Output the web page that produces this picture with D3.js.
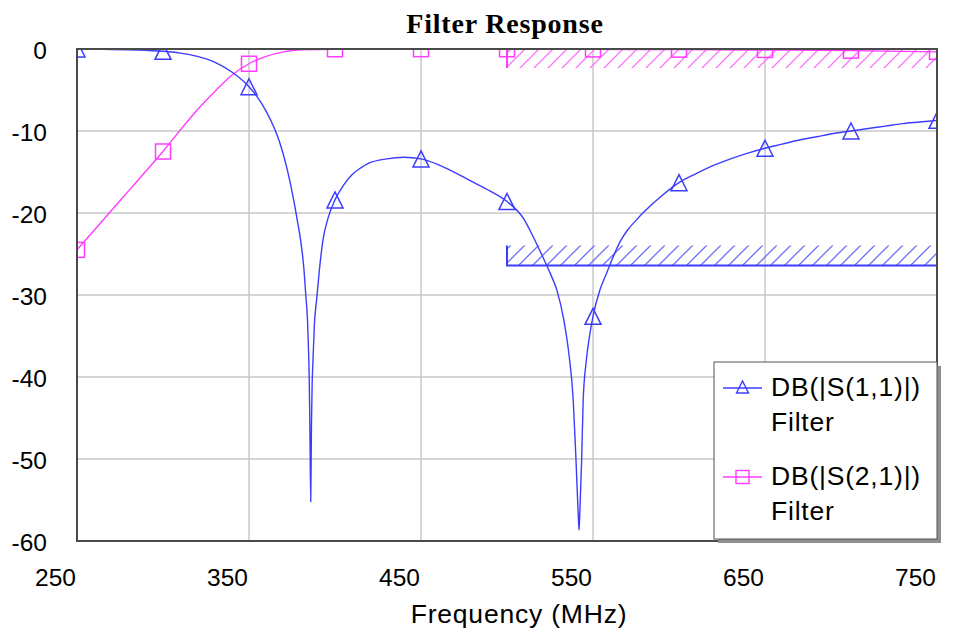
<!DOCTYPE html>
<html>
<head>
<meta charset="utf-8">
<script src="https://cdn.jsdelivr.net/npm/d3@7"></script>
<style>
body { margin: 0; background: #fff; }
svg { display: block; }
</style>
</head>
<body>
<div id="chart"></div>
<script>
var xTicks = [250, 350, 450, 550, 650, 750];
var yTicks = [0, -10, -20, -30, -40, -50, -60];
var markerFreq = [250, 300, 350, 400, 450, 500, 550, 600, 650, 700, 750];

// DB(|S(1,1)|)
var s11Freq = [250, 260, 270, 280, 290, 300, 310, 320, 330, 340, 345, 350, 355, 360, 365, 368, 372, 375.6, 378, 380,
    382, 383, 384, 384.5, 385, 385.4, 385.9, 386.3, 386.7, 387.2, 388, 389.4, 391, 393, 396, 400, 405, 410, 415, 420,
    430, 440, 450, 460, 470, 480, 490, 500, 510, 515, 520, 525, 529, 533, 536, 538.5, 540.1, 541.3, 541.9, 542.4,
    543.4, 544.3, 546, 548, 550, 554, 558, 562, 566, 570, 575, 580, 590, 600, 610, 620, 630, 640, 650, 660,
    670, 680, 690, 700, 710, 720, 730, 740, 750];
var s11Db = [0, -0.03, -0.06, -0.1, -0.17, -0.28, -0.5, -0.9, -1.6, -2.8, -3.6, -4.6, -5.9, -7.6, -9.8, -11.5, -14.5, -18.0, -20.8, -23.3,
    -27.0, -30.0, -33.0, -36.0, -40.0, -46.0, -55.2, -46.0, -41.0, -38.0, -33.7, -30.4, -26.8, -23.3, -20.6, -18.4, -16.6, -15.3, -14.5, -13.9,
    -13.4, -13.2, -13.4, -14.1, -15.1, -16.2, -17.3, -18.6, -20.8, -22.8, -25.0, -27.3, -29.4, -33.0, -37.2, -42.8, -50.1, -56.2, -58.7, -56.2,
    -50.1, -42.8, -38.2, -35.0, -32.6, -29.4, -27.3, -25.2, -23.4, -22.1, -20.9, -19.8, -17.9, -16.3, -15.2, -14.2, -13.4, -12.7, -12.1, -11.6,
    -11.1, -10.7, -10.3, -10.0, -9.7, -9.4, -9.1, -8.9, -8.7];

// DB(|S(2,1)|)
var s21Freq = [250, 260, 270, 280, 290, 300, 310, 320, 330, 340, 350, 360, 370, 380, 400, 450, 500, 550, 600, 650, 700, 750];
var s21Db = [-24.5, -22.1, -19.7, -17.3, -14.9, -12.5, -9.9, -7.4, -5.2, -3.2, -1.8, -0.9, -0.35, -0.1, -0.03, -0.02, -0.03, -0.05, -0.08, -0.12, -0.2, -0.35];

// goals (hatched)
var goalStart = 500, goalEnd = 750;
var s21Goal = 0, s11Goal = -26.4;

var legendNames = ["DB(|S(1,1)|)", "DB(|S(2,1)|)"];
var legendSub = "Filter";

var W = 961, H = 628;
var margin = {top: 49, right: 24, bottom: 87, left: 77};
var width = W - margin.left - margin.right,
    height = H - margin.top - margin.bottom;

var blue = "#3c3cff", magenta = "#ff3cff";

var svg = d3.select("#chart").append("svg")
    .attr("width", W)
    .attr("height", H);

var defs = svg.append("defs");
defs.append("clipPath").attr("id", "plotclip")
    .append("rect").attr("width", width).attr("height", height);

function hatch(id, color) {
    var p = defs.append("pattern")
        .attr("id", id)
        .attr("patternUnits", "userSpaceOnUse")
        .attr("width", 14).attr("height", 14);
    p.append("path")
        .attr("d", "M0,14L14,0M-3.5,3.5L3.5,-3.5M10.5,17.5L17.5,10.5")
        .attr("stroke", color)
        .attr("stroke-width", 1.3);
}
hatch("hatchBlue", "#6f6fff");
hatch("hatchMag", "#ff70ff");

var x = d3.scaleLinear().domain([250, 750]).range([0, width]);
var y = d3.scaleLinear().domain([-60, 0]).range([height, 0]);

var chart = svg.append("g")
    .attr("transform", "translate(" + margin.left + "," + margin.top + ")");

// grid
chart.append("g").selectAll("line")
    .data(xTicks.slice(1, -1))
    .enter().append("line")
    .attr("x1", function(d) { return x(d); })
    .attr("x2", function(d) { return x(d); })
    .attr("y1", 0).attr("y2", height)
    .attr("stroke", "#c8c8c8").attr("stroke-width", 1.5);

chart.append("g").selectAll("line")
    .data(yTicks.slice(1, -1))
    .enter().append("line")
    .attr("y1", function(d) { return y(d); })
    .attr("y2", function(d) { return y(d); })
    .attr("x1", 0).attr("x2", width)
    .attr("stroke", "#c8c8c8").attr("stroke-width", 1.5);

// axes
var xAxis = chart.append("g")
    .attr("transform", "translate(0," + height + ")")
    .call(d3.axisBottom(x).tickValues(xTicks).tickSize(0).tickFormat(function(d) { return String(d); }));
xAxis.select(".domain").remove();
xAxis.selectAll("text")
    .attr("x", -22)
    .attr("y", 28)
    .attr("fill", "#000")
    .style("font-family", "Arial, 'Liberation Sans', sans-serif")
    .style("font-size", "24.5px");

var yAxis = chart.append("g")
    .call(d3.axisLeft(y).tickValues(yTicks).tickSize(0).tickPadding(30).tickFormat(function(d) { return String(d); }));
yAxis.select(".domain").remove();
yAxis.selectAll("text")
    .attr("dy", "0.38em")
    .attr("fill", "#000")
    .style("font-family", "Arial, 'Liberation Sans', sans-serif")
    .style("font-size", "24.5px");

var plot = chart.append("g").attr("clip-path", "url(#plotclip)");

// goal S21 (hatch below the line)
plot.append("rect")
    .attr("x", x(goalStart)).attr("y", y(s21Goal))
    .attr("width", x(goalEnd) - x(goalStart)).attr("height", 19)
    .attr("fill", "url(#hatchMag)");
plot.append("path")
    .attr("d", "M" + x(goalStart) + "," + (y(s21Goal) + 19) + "V" + y(s21Goal) + "H" + x(goalEnd))
    .attr("fill", "none").attr("stroke", magenta).attr("stroke-width", 2);

// goal S11 (hatch above the line)
plot.append("rect")
    .attr("x", x(goalStart)).attr("y", y(s11Goal) - 20)
    .attr("width", x(goalEnd) - x(goalStart)).attr("height", 20)
    .attr("fill", "url(#hatchBlue)");
plot.append("path")
    .attr("d", "M" + x(goalStart) + "," + (y(s11Goal) - 20) + "V" + y(s11Goal) + "H" + x(goalEnd))
    .attr("fill", "none").attr("stroke", blue).attr("stroke-width", 2);

var line = d3.line()
    .x(function(d) { return x(d[0]); })
    .y(function(d) { return y(d[1]); })
    .curve(d3.curveMonotoneX);

var s11 = s11Freq.map(function(f, i) { return [f, s11Db[i]]; });
var s21 = s21Freq.map(function(f, i) { return [f, s21Db[i]]; });

plot.append("path").datum(s21)
    .attr("d", line)
    .attr("fill", "none").attr("stroke", magenta).attr("stroke-width", 1.4);
plot.append("path").datum(s11)
    .attr("d", line)
    .attr("fill", "none").attr("stroke", blue).attr("stroke-width", 1.4);

function triangle(cx, cy, r) {
    return "M" + cx + "," + (cy - r) + "L" + (cx + r) + "," + (cy + r) + "L" + (cx - r) + "," + (cy + r) + "Z";
}

var s11Marks = s11.filter(function(d) { return markerFreq.indexOf(d[0]) >= 0; });
var s21Marks = s21.filter(function(d) { return markerFreq.indexOf(d[0]) >= 0; });

plot.append("g").selectAll("path")
    .data(s11Marks)
    .enter().append("path")
    .attr("d", function(d) { return triangle(x(d[0]), y(d[1]), 8); })
    .attr("fill", "none").attr("stroke", blue).attr("stroke-width", 1.5);

plot.append("g").selectAll("rect")
    .data(s21Marks)
    .enter().append("rect")
    .attr("x", function(d) { return x(d[0]) - 7.5; })
    .attr("y", function(d) { return y(d[1]) - 7.5; })
    .attr("width", 15).attr("height", 15)
    .attr("fill", "none").attr("stroke", magenta).attr("stroke-width", 1.5);

// frame
chart.append("rect")
    .attr("width", width).attr("height", height)
    .attr("fill", "none").attr("stroke", "#4a4a4a").attr("stroke-width", 2);

// title + axis label
svg.append("text")
    .attr("x", 505).attr("y", 33)
    .attr("text-anchor", "middle")
    .style("font-family", "'Times New Roman', 'Liberation Serif', serif")
    .style("font-weight", "bold")
    .style("font-size", "28px")
    .style("letter-spacing", "0.8px")
    .text("Filter Response");

svg.append("text")
    .attr("x", 519).attr("y", 623)
    .attr("text-anchor", "middle")
    .style("font-family", "Arial, 'Liberation Sans', sans-serif")
    .style("font-size", "26.5px")
    .style("letter-spacing", "0.8px")
    .text("Frequency (MHz)");

// legend
var lg = svg.append("g").attr("transform", "translate(714,362)");
lg.append("rect")
    .attr("x", 4).attr("y", 4).attr("width", 223).attr("height", 177)
    .attr("fill", "#8f8f8f");
lg.append("rect")
    .attr("width", 223).attr("height", 177)
    .attr("fill", "#fff").attr("stroke", "#555").attr("stroke-width", 1);

var legendColors = [blue, magenta];
var legendY = [26, 115];
legendNames.forEach(function(name, i) {
    var g = lg.append("g").attr("transform", "translate(0," + legendY[i] + ")");
    g.append("line")
        .attr("x1", 9).attr("x2", 48)
        .attr("stroke", legendColors[i]).attr("stroke-width", 1.4);
    if (i === 0) {
        g.append("path")
            .attr("d", triangle(28.5, -1, 6))
            .attr("fill", "none").attr("stroke", blue).attr("stroke-width", 1.4);
    } else {
        g.append("rect")
            .attr("x", 22).attr("y", -6.5).attr("width", 13).attr("height", 13)
            .attr("fill", "none").attr("stroke", magenta).attr("stroke-width", 1.4);
    }
    g.append("text")
        .attr("x", 57).attr("y", 8)
        .style("font-family", "Arial, 'Liberation Sans', sans-serif")
        .style("font-size", "26.5px")
        .style("letter-spacing", "0.8px")
        .text(name);
    g.append("text")
        .attr("x", 57).attr("y", 43)
        .style("font-family", "Arial, 'Liberation Sans', sans-serif")
        .style("font-size", "26.5px")
        .style("letter-spacing", "0.8px")
        .text(legendSub);
});
</script>
</body>
</html>
